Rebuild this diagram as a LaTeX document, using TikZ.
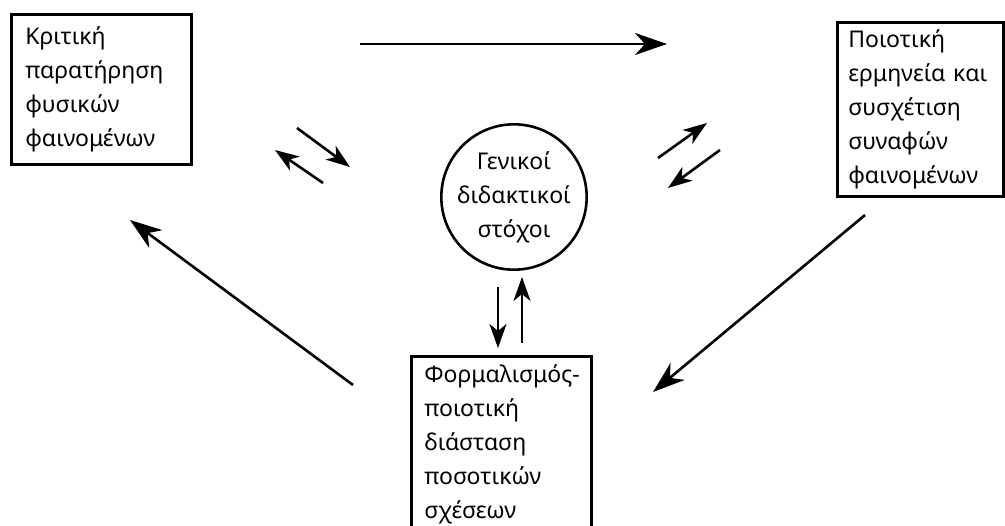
\documentclass[tikz,border=0pt]{standalone}
\usepackage{fontspec}
\setmainfont{Noto Sans}
\usetikzlibrary{arrows.meta}
\begin{document}
\begin{tikzpicture}[x=1pt,y=-1pt,
  txt/.style={font=\fontsize{23}{34}\selectfont},
  box/.style={txt, draw, line width=2.6pt, anchor=north west, align=left, inner ysep=0pt},
  arr/.style={line width=2.6pt, -{Stealth[length=32pt,width=22pt,inset=10pt]}},
  sarr/.style={line width=2.6pt, -{Stealth[length=24pt,width=17pt,inset=7pt]}}]
\useasboundingbox (0,0) rectangle (1005,526);
\clip (0,0) rectangle (1005,526);
\fill[white] (0,0) rectangle (1005,526);
% boxes
\node[box, inner xsep=14pt, text width=152pt, minimum width=180pt, minimum height=150pt] (b1) at (10,13)
  {Κριτική\\παρατήρηση\\φυσικών\\φαινομένων};
\node[box, inner xsep=11pt, text width=144pt, minimum width=166pt, minimum height=174pt] (b2) at (836,21)
  {Ποιοτική\\\mbox{ερμηνεία και}\\συσχέτιση\\συναφών\\φαινομένων};
\node[box, inner xsep=13pt, text width=154pt, minimum width=180pt, minimum height=176pt] (b3) at (410,355)
  {\mbox{Φορμαλισμός-}\\ποιοτική\\διάσταση\\ποσοτικών\\σχέσεων};
\node[txt, circle, draw, line width=2.6pt, minimum size=142pt, inner sep=0pt, align=center] (c) at (514,197)
  {Γενικοί\\διδακτικοί\\στόχοι};
% connector end points
\coordinate (t1) at (360,44);  \coordinate (t2) at (667,44);
\coordinate (r1) at (865,215); \coordinate (r2) at (653,392);
\coordinate (l1) at (353,385); \coordinate (l2) at (130,220);
\coordinate (a1) at (297,128); \coordinate (a2) at (350,167);
\coordinate (a3) at (323,183); \coordinate (a4) at (275,150);
\coordinate (a5) at (658,158); \coordinate (a6) at (707,123);
\coordinate (a7) at (720,150); \coordinate (a8) at (668,188);
\coordinate (v1) at (498,287); \coordinate (v2) at (498,348);
\coordinate (v3) at (522,343); \coordinate (v4) at (522,277);
% connectors
\draw[arr] (t1) -- (t2);
\draw[arr] (r1) -- (r2);
\draw[arr] (l1) -- (l2);
\draw[sarr] (a1) -- (a2);
\draw[sarr] (a3) -- (a4);
\draw[sarr] (a5) -- (a6);
\draw[sarr] (a7) -- (a8);
\draw[sarr] (v1) -- (v2);
\draw[sarr] (v3) -- (v4);
\end{tikzpicture}
\end{document}
